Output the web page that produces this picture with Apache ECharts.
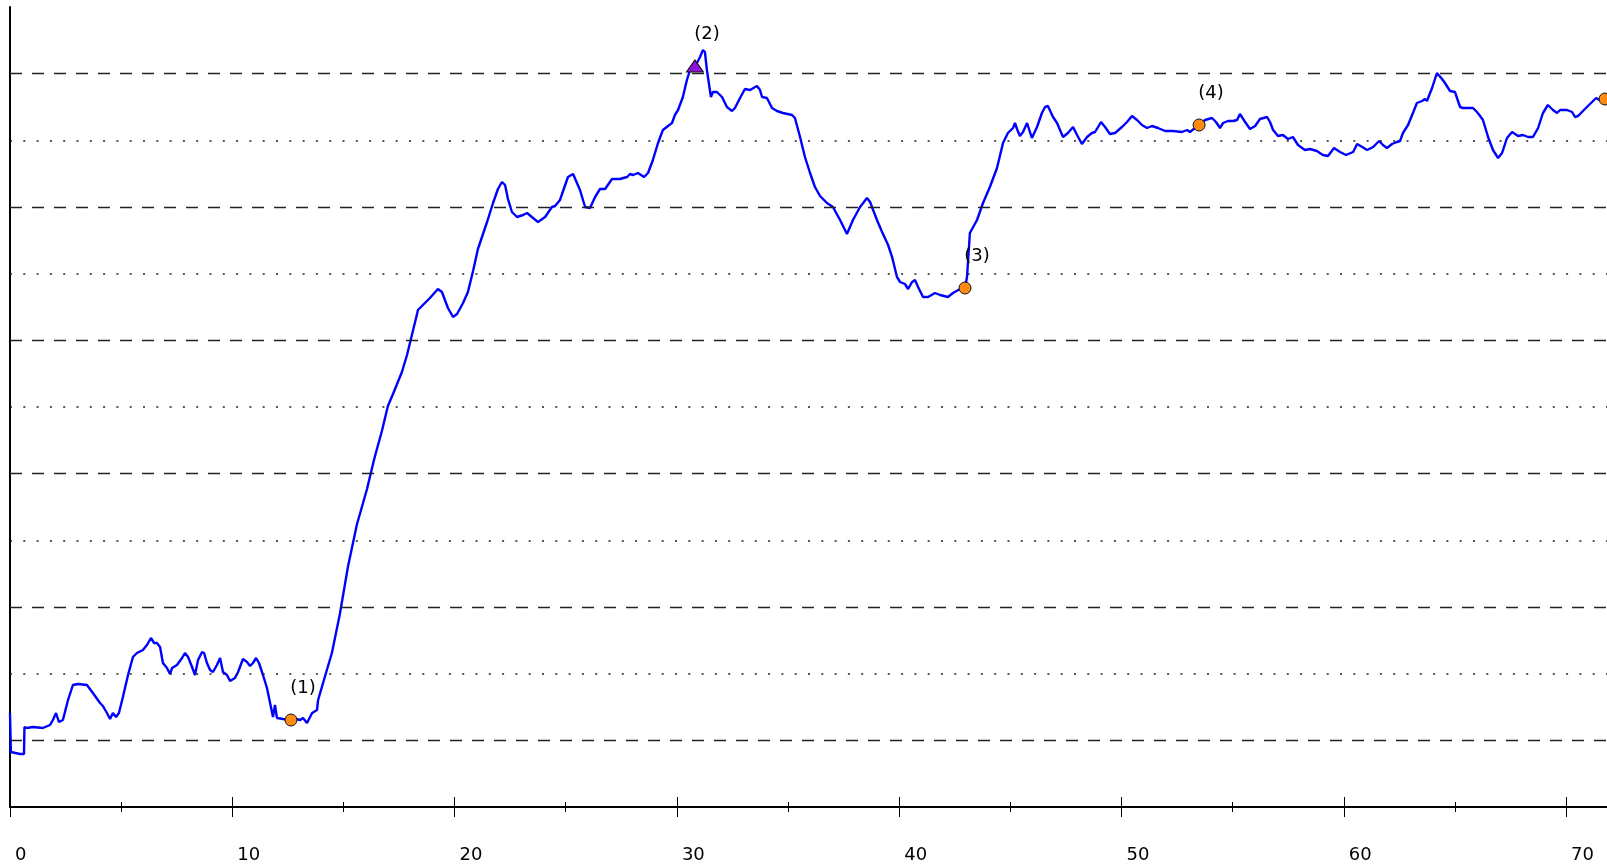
<!DOCTYPE html>
<html>
<head>
<meta charset="utf-8">
<title>Chart</title>
<script src="https://cdn.jsdelivr.net/npm/echarts@6/dist/echarts.min.js"></script>
<style>
html, body { margin: 0; padding: 0; background: #ffffff; }
#chart { width: 1607px; height: 867px; }
</style>
</head>
<body>
<div id="chart"></div>
<script>
// curve, [x, y] (y in grid units: one gridline = 10)
const lowPart = [
	[0, 14.1], [0.04, 8.25], [0.09, 7.95], [0.45, 7.95], [0.63, 7.95], [0.65, 12.0], [0.76, 11.85],
	[1.03, 12.0], [1.48, 11.85], [1.80, 12.3], [1.93, 13.05], [2.07, 14.1], [2.20, 12.75], [2.38, 13.05],
	[2.61, 16.05], [2.83, 18.3], [3.06, 18.45], [3.46, 18.3], [3.73, 17.1], [4.05, 15.6], [4.18, 15.15],
	[4.36, 14.1], [4.50, 13.2], [4.63, 14.1], [4.77, 13.5], [4.90, 14.1], [5.08, 16.5], [5.31, 19.8],
	[5.53, 22.5], [5.71, 23.1], [5.98, 23.55], [6.16, 24.3], [6.34, 25.35], [6.48, 24.6], [6.61, 24.6],
	[6.75, 24.0], [6.88, 21.6], [7.06, 20.85], [7.20, 19.95], [7.29, 20.85], [7.51, 21.3], [7.74, 22.35],
	[7.87, 23.1], [8.01, 22.5], [8.19, 21.0], [8.32, 19.8], [8.46, 22.05], [8.64, 23.25], [8.73, 23.1],
	[8.86, 21.6], [9.00, 20.55], [9.13, 20.25], [9.31, 21.3], [9.45, 22.35], [9.58, 20.25], [9.76, 19.8],
	[9.90, 18.9], [10.12, 19.35], [10.26, 20.25], [10.48, 22.2], [10.66, 21.75], [10.80, 21.15],
	[10.93, 21.6], [11.07, 22.35], [11.20, 21.6], [11.38, 19.8], [11.56, 17.85], [11.70, 15.6],
	[11.83, 13.5], [11.92, 15.3], [12.01, 13.35], [12.28, 13.2], [12.64, 13.05], [12.87, 13.2],
	[13.05, 13.05], [13.18, 13.35], [13.36, 12.6], [13.59, 14.1], [13.81, 14.55], [13.86, 16.05], [14.03, 18.0]
];
const climbPart = [
	[14.48, 23.1], [14.84, 28.95], [15.20, 36.0], [15.61, 42.45], [15.74, 43.95], [16.06, 47.7],
	[16.33, 51.45], [16.42, 52.65], [16.73, 56.4], [17.00, 60.15], [17.23, 61.95], [17.63, 65.25],
	[17.86, 67.8], [18.31, 73.95], [18.35, 74.55], [18.53, 75.15], [18.89, 76.35], [19.25, 77.7],
	[19.43, 77.25], [19.70, 74.85], [19.93, 73.5], [20.11, 73.95], [20.38, 75.6], [20.60, 77.25],
	[20.83, 80.4], [21.05, 83.7], [21.46, 87.75], [21.73, 90.6], [21.95, 92.7], [22.13, 93.75],
	[22.27, 93.3], [22.40, 91.2], [22.58, 89.25], [22.81, 88.5], [23.08, 88.8], [23.26, 89.1],
	[23.53, 88.35], [23.75, 87.75], [24.07, 88.5], [24.38, 90.0], [24.52, 90.15], [24.74, 91.05],
	[25.10, 94.5], [25.33, 94.95], [25.64, 92.55], [25.87, 90.0], [26.09, 89.85], [26.32, 91.5],
	[26.54, 92.7], [26.77, 92.7], [27.08, 94.2], [27.44, 94.2], [27.76, 94.5], [27.89, 94.95],
	[28.03, 94.8], [28.25, 95.1], [28.52, 94.5], [28.70, 95.1], [28.92, 97.05], [29.15, 99.6],
	[29.37, 101.55], [29.60, 102.15], [29.78, 102.6], [29.91, 103.8], [30.05, 104.55], [30.27, 106.5],
	[30.45, 109.05], [30.59, 110.55], [30.81, 111.15]
];
const peakPart = [
	[30.90, 111.6], [31.04, 112.5], [31.17, 113.55], [31.26, 113.25], [31.35, 110.55], [31.53, 106.5],
	[31.62, 107.25], [31.80, 107.25], [32.03, 106.5], [32.25, 105.0], [32.48, 104.4], [32.61, 104.85],
	[32.84, 106.35], [33.06, 107.7], [33.29, 107.55], [33.60, 108.15], [33.74, 107.55], [33.83, 106.5],
	[34.05, 106.35], [34.28, 104.85], [34.50, 104.4], [34.77, 104.1], [35.18, 103.8], [35.31, 103.35],
	[35.54, 100.5], [35.76, 97.5], [35.99, 95.1], [36.21, 93.0], [36.44, 91.65], [36.75, 90.6],
	[37.02, 90.0], [37.34, 88.05], [37.65, 85.95], [37.92, 88.05], [38.24, 90.0], [38.55, 91.35],
	[38.69, 90.75], [39.00, 88.05], [39.23, 86.25], [39.50, 84.3], [39.68, 82.5], [39.90, 79.5],
	[40.04, 78.75], [40.26, 78.45], [40.40, 77.7], [40.58, 78.75], [40.71, 79.05], [40.85, 78.0],
	[41.07, 76.5], [41.30, 76.5], [41.61, 77.1], [41.84, 76.8], [42.19, 76.5], [42.42, 77.1],
	[42.74, 77.7], [42.96, 77.85]
];
const plateauPart = [
	[43.05, 79.5], [43.18, 86.1], [43.50, 88.05], [43.77, 90.6], [44.08, 93.0], [44.40, 95.85],
	[44.67, 99.6], [44.89, 101.1], [45.12, 101.85], [45.21, 102.6], [45.30, 101.7], [45.43, 100.65],
	[45.57, 101.25], [45.75, 102.6], [45.97, 100.35], [46.20, 102.0], [46.42, 104.1], [46.56, 105.0],
	[46.69, 105.15], [46.92, 103.5], [47.10, 102.6], [47.37, 100.5], [47.59, 101.1], [47.82, 102.0],
	[48.00, 100.8], [48.22, 99.45], [48.45, 100.5], [48.67, 101.1], [48.81, 101.25], [49.08, 102.75],
	[49.26, 102.0], [49.48, 100.95], [49.71, 101.1], [50.02, 102.0], [50.25, 102.75], [50.47, 103.65],
	[50.70, 103.05], [50.92, 102.3], [51.15, 101.85], [51.37, 102.15], [51.64, 101.85], [51.96, 101.4],
	[52.32, 101.4], [52.72, 101.25], [52.95, 101.55], [53.08, 101.25], [53.31, 101.85], [53.49, 102.3],
	[53.76, 103.05], [54.07, 103.35], [54.25, 102.75], [54.43, 101.85], [54.57, 102.6], [54.79, 102.9],
	[55.02, 102.9], [55.20, 103.05], [55.33, 103.95], [55.56, 102.75], [55.78, 101.7], [56.01, 102.15],
	[56.23, 103.2], [56.55, 103.5], [56.68, 102.75], [56.82, 101.55], [57.04, 100.65], [57.26, 100.8],
	[57.49, 100.2], [57.71, 100.5], [57.94, 99.3], [58.25, 98.55], [58.48, 98.7], [58.79, 98.4],
	[59.06, 97.8], [59.29, 97.65], [59.56, 98.85], [59.83, 98.25], [60.10, 97.8], [60.42, 98.25],
	[60.60, 99.45], [60.83, 99.0], [61.05, 98.55], [61.32, 99.0], [61.59, 99.9], [61.76, 99.3],
	[61.94, 98.85], [62.17, 99.45], [62.39, 99.75], [62.53, 99.9], [62.66, 101.1], [62.89, 102.3],
	[63.11, 104.1], [63.29, 105.6], [63.52, 105.9], [63.65, 106.2], [63.74, 105.9], [63.97, 107.85],
	[64.19, 110.1], [64.42, 109.2], [64.55, 108.6], [64.78, 107.4], [65.00, 107.25], [65.23, 105.0],
	[65.36, 104.85], [65.81, 104.85], [65.99, 104.25], [66.13, 103.65], [66.26, 103.05], [66.49, 100.5],
	[66.71, 98.55], [66.94, 97.35], [67.12, 98.1], [67.34, 100.35], [67.57, 101.25], [67.84, 100.65],
	[68.06, 100.8], [68.29, 100.5], [68.51, 100.5], [68.74, 101.85], [68.96, 104.1], [69.18, 105.3],
	[69.41, 104.55], [69.59, 104.1], [69.73, 104.55], [70.04, 104.55], [70.27, 104.25], [70.40, 103.5],
	[70.54, 103.65], [70.76, 104.4], [71.03, 105.3], [71.35, 106.35], [71.57, 105.9], [71.75, 106.2]
];

// marked points (the last one sits on the right edge, its label is cut off)
const markerX = [12.64, 30.81, 42.96, 53.49, 71.75];
const markerY = [13.05, 111.15, 77.85, 102.3, 106.2];
const markerNames = ['(1)', '(2)', '(3)', '(4)', ''];

// horizontal guide lines
const dashedLevels = [10, 30, 50, 70, 90, 110];
const dottedLevels = [20, 40, 60, 80, 100];

const xMax = 71.84;
const font = 'DejaVu Sans';

const curve = lowPart.concat(climbPart, peakPart, plateauPart);

function tickAxis(interval, len, inside, extra) {
	return Object.assign({
		type: 'value',
		position: 'bottom',
		min: 0,
		max: xMax,
		interval: interval,
		axisLine: { show: false, onZero: false },
		axisTick: { show: true, inside: inside, length: len, lineStyle: { color: '#000', width: 1 } },
		axisLabel: { show: false },
		splitLine: { show: false }
	}, extra || {});
}

const chart = echarts.init(document.getElementById('chart'), null, { renderer: 'canvas' });

const gridLines = dashedLevels.map(v => ({
	yAxis: v,
	lineStyle: { type: [12, 10], color: '#222', width: 1.3 }
})).concat(dottedLevels.map(v => ({
	yAxis: v,
	lineStyle: { type: [2, 11.3], color: '#222', width: 1.5 }
})));

const markerData = markerX.map((x, i) => ({
	value: [x, markerY[i]],
	name: markerNames[i],
	symbol: i === 1 ? 'triangle' : 'circle',
	symbolSize: i === 1 ? [17, 12] : 12,
	itemStyle: {
		color: i === 1 ? '#9010dd' : '#ff8a12',
		borderColor: '#111',
		borderWidth: 1,
		opacity: 1
	}
}));

const option = {
	backgroundColor: '#ffffff',
	animation: false,
	grid: { left: 10, right: 0, top: 7, bottom: 60 },
	xAxis: [
		tickAxis(10, 10, false, {
			axisLine: { show: true, onZero: false, lineStyle: { color: '#000', width: 2 } },
			axisLabel: {
				show: true,
				showMaxLabel: false,
				align: 'left',
				verticalAlign: 'top',
				padding: [0, 0, 0, 5],
				margin: 38,
				fontSize: 18,
				lineHeight: 20,
				fontFamily: font,
				color: '#000'
			}
		}),
		tickAxis(5, 5, false),
		tickAxis(10, 10, true),
		tickAxis(5, 5, true)
	],
	yAxis: {
		type: 'value',
		min: 0,
		max: 120,
		axisLine: { show: true, lineStyle: { color: '#000', width: 2 } },
		axisTick: { show: false },
		axisLabel: { show: false },
		splitLine: { show: false }
	},
	series: [
		{
			// only carries the guide lines
			type: 'line',
			data: [],
			z: 1,
			markLine: {
				silent: true,
				symbol: ['none', 'none'],
				label: { show: false },
				emphasis: { disabled: true },
				data: gridLines
			}
		},
		{
			type: 'line',
			data: curve,
			showSymbol: false,
			symbol: 'none',
			z: 3,
			lineStyle: { color: '#0000ff', width: 2.4 }
		},
		{
			type: 'scatter',
			data: markerData,
			z: 4,
			clip: false,
			itemStyle: { opacity: 1 },
			label: {
				show: true,
				formatter: '{b}',
				position: 'top',
				distance: 5,
				offset: [12, -11],
				fontSize: 18,
				fontFamily: font,
				color: '#000',
				opacity: 1
			}
		}
	]
};

chart.setOption(option);
</script>
</body>
</html>
